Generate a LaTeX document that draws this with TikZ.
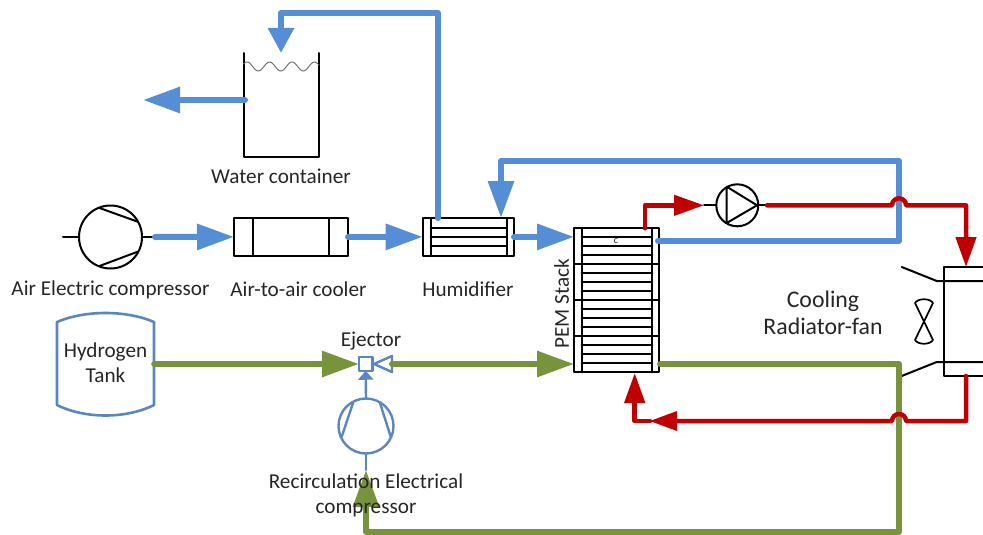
\documentclass[tikz,border=0pt]{standalone}
\usepackage{fontspec}
\setmainfont{Carlito}
\usetikzlibrary{arrows.meta}
\definecolor{airblue}{HTML}{558ED5}
\definecolor{hydgreen}{HTML}{77933C}
\definecolor{coolred}{HTML}{C00000}
\definecolor{steel}{HTML}{5B87C0}
\definecolor{inkgray}{HTML}{262626}
\tikzset{
  label/.style={inner sep=0pt,text=inkgray,align=center,font=\fontsize{21.2}{25}\selectfont},
  part/.style={draw=black,line width=2pt,inner sep=0pt,outer sep=0pt},
  bluepipe/.style={draw=airblue,line width=6pt},
  greenpipe/.style={draw=hydgreen,line width=6pt},
  redpipe/.style={draw=coolred,line width=4.5pt},
  bluetip/.style={-{Triangle[length=37pt,width=25pt]}},
  greentip/.style={-{Triangle[length=37pt,width=25pt]}},
  redtip/.style={-{Triangle[length=30pt,width=20pt]}},
  fine/.style={draw=black,line width=2pt},
  gasline/.style={draw=steel,line width=2.4pt},
}
\begin{document}
\begin{tikzpicture}[x=1pt,y=-1pt,line cap=round,line join=round]
  \useasboundingbox (0,0) rectangle (983,535);
  % water container
  \node[inner sep=0pt,outer sep=0pt,minimum width=75.5pt,minimum height=104pt] (water) at (281.25,105) {};
  \draw[fine] (water.north west) -- (water.south west) -- (water.south east) -- (water.north east);
  \draw[draw=black!60,line width=0.9pt] plot[domain=243.5:319,samples=70] (\x,{66.5+4.5*cos((\x-258.3)*16)});
  \coordinate (waterin) at (281,53);
  \coordinate (waterout) at (245,100);
  \coordinate (drain) at (143,100);
  % air line parts
  \node[part,circle,minimum size=63pt] (aircomp) at (110.5,237) {};
  \draw[fine] (99.5,208) -- (137.7,221.7);
  \draw[fine] (99.5,266) -- (137.7,251.7);
  \coordinate (aircompin) at (63,237);
  \coordinate (aircompout) at (155,237);
  \draw[fine] (aircompin) -- (aircomp.west);
  \draw[fine] (aircomp.east) -- (aircompout);
  \node[part,rectangle,minimum width=114pt,minimum height=37.7pt] (cooler) at (291,236.9) {};
  \draw[fine] (253.3,218) -- (253.3,255.7);
  \draw[fine] (329,218) -- (329,255.7);
  \node[part,rectangle,minimum width=91.3pt,minimum height=37.7pt] (humid) at (468.35,236.9) {};
  \draw[fine] (430.7,218) -- (430.7,255.7);
  \draw[fine] (506.7,218) -- (506.7,255.7);
  \foreach \y in {227.7,236.9,246}
    \draw[fine] (430.7,\y) -- (506.7,\y);
  % stack
  \node[part,rectangle,minimum width=85.3pt,minimum height=144pt] (stack) at (616.65,300.3) {};
  \draw[fine] (581.7,228.3) -- (581.7,372.3);
  \draw[fine] (652.3,228.3) -- (652.3,372.3);
  \foreach \k in {1,2,3,5,6,7,9,10,11,13,14,15}
    \draw[fine] (581.7,{228.3+9*\k}) -- (652.3,{228.3+9*\k});
  \foreach \k in {4,8,12}
    \draw[fine] (574,{228.3+9*\k}) -- (659.3,{228.3+9*\k});
  \node[inner sep=0pt,text=inkgray,font=\fontsize{10}{10}\selectfont] (cell) at (616,241) {c};
  \node[label,rotate=90] (stacklabel) at (561.5,304) {PEM Stack};
  % radiator
  \draw[fine] (985,267.3) -- (944.3,267.3) -- (944.3,376) -- (985,376);
  \draw[fine] (901.7,267) -- (936.7,281) -- (985,281);
  \draw[fine] (901.7,376) -- (936.7,362) -- (985,362);
  \draw[fine,line width=1.7pt] (915,303) .. controls (918,298) and (930,298) .. (933,303) -- (915,340)
    .. controls (918,345) and (930,345) .. (933,340) -- cycle;
  \coordinate (radin) at (966,267);
  \coordinate (radout) at (966,376);
  % pump
  \node[part,circle,minimum size=42pt] (pump) at (737.3,205.3) {};
  \draw[fine] (726.7,186.7) -- (757,205.3) -- (726.7,223) -- cycle;
  \coordinate (pumpin) at (704,205.3);
  \coordinate (pumpout) at (767,205.3);
  \draw[fine] (pumpin) -- (pump.west);
  \draw[fine] (pump.east) -- (pumpout);
  % hydrogen side
  \draw[gasline,line width=2.6pt] (57,322) .. controls (85,310) and (126,310) .. (154,322) -- (154,405)
    .. controls (126,419) and (85,419) .. (57,405) -- cycle;
  \node[label,minimum width=97pt] (tank) at (105.5,363) {Hydrogen\\Tank};
  \node[gasline,rectangle,inner sep=0pt,outer sep=0pt,minimum size=13.5pt] (ejector) at (365.7,364) {};
  \draw[gasline] (374,364) -- (392,356) -- (392,372) -- cycle;
  \coordinate (ejectorin) at (392,364);
  \node[gasline,circle,inner sep=0pt,outer sep=0pt,minimum size=55pt] (recirc) at (366,426) {};
  \draw[gasline] (353,403) -- (341.7,436.7);
  \draw[gasline] (380,403) -- (390.7,436.7);
  \coordinate (recircin) at (366,470);
  \draw[gasline] (recirc.south) -- (recircin);
  \draw[gasline,-{Triangle[length=9pt,width=15pt]}] (recirc.north) -- (ejector.south);
  % blue pipes
  \draw[bluepipe,bluetip] (waterout) -- (drain);
  \draw[bluepipe,-{Triangle[length=25pt,width=25pt]}] (humid.north -| 438,218) -- (438,13) -- (281,13) -- (waterin);
  \draw[bluepipe,bluetip] (aircompout) -- (cooler.west);
  \draw[bluepipe,bluetip] (cooler.east) -- (humid.west);
  \draw[bluepipe,bluetip] (humid.east) -- (stack.west |- humid.east);
  \coordinate (stackout) at (658,240.7);
  \draw[bluepipe,bluetip] (stackout) -- (899,240.7) -- (899,161) -- (501,161) -- (501,218);
  % green pipes
  \coordinate (stackdrain) at (660,364);
  \draw[greenpipe,greentip] (tank.east |- ejector.west) -- (ejector.west);
  \draw[greenpipe,greentip] (ejectorin) -- (ejectorin -| stack.west);
  \draw[greenpipe,greentip] (stackdrain) -- (899,364) -- (899,531.5) -- (366,531.5) -- (recircin);
  % red pipes
  \draw[redpipe,redtip] (645,228.3) -- (645,205.3) -- (pumpin);
  \draw[redpipe,redtip] (pumpout) -- (892,205.3) arc (180:360:7) -- (966,205.3) -- (radin);
  \draw[redpipe] (radout) -- (966,421) -- (906,421) arc (360:180:7) -- (660,421);
  \draw[redpipe,redtip] (650,421) -- (634.7,421) -- (634.7,373);
  \draw[draw=none,fill=coolred] (650,421) -- (677,411) -- (677,431) -- cycle;
  % labels
  \node[label] (waterlabel) at (281,176.5) {Water container};
  \node[label] (aircomplabel) at (110.5,289.5) {Air Electric compressor};
  \node[label] (coolerlabel) at (298.5,289.5) {Air-to-air cooler};
  \node[label] (humidlabel) at (468,289) {Humidifier};
  \node[label] (ejectorlabel) at (371,341) {Ejector};
  \node[label] (recirclabel) at (366,495.5) {Recirculation Electrical\\compressor};
  \node[label,font=\fontsize{23.8}{27}\selectfont] (radlabel) at (823,312.5) {Cooling\\Radiator-fan};
\end{tikzpicture}
\end{document}
